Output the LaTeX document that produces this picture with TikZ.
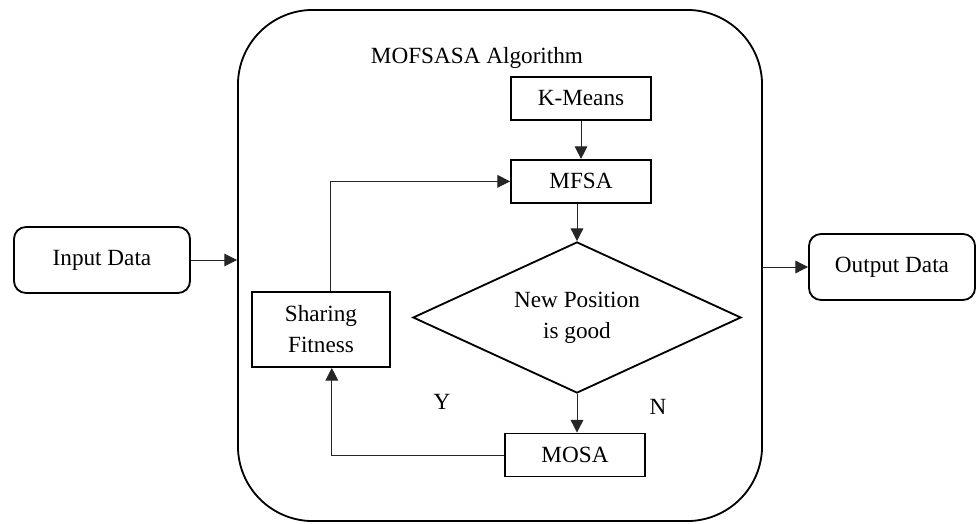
\documentclass[tikz,border=0pt]{standalone}
\usepackage{fontspec}
\setmainfont{Liberation Serif}
\usetikzlibrary{shapes.geometric, arrows.meta, positioning, calc}
\usepackage{xcolor}

\begin{document}
\begin{tikzpicture}[
        x=0.025cm, y=-0.025cm,
        node distance=0.95cm,
        font=\fontsize{16.5}{22}\selectfont,
        frame/.style={rectangle, draw, line width=1.3pt, rounded corners=1.875cm, minimum width=13.1cm, minimum height=12.775cm},
        io/.style={rectangle, draw, line width=1.3pt, rounded corners=0.3cm, minimum height=1.65cm, align=center},
        block/.style={rectangle, draw, line width=1.3pt, minimum width=3.5cm, minimum height=1.075cm, align=center},
        decision/.style={diamond, draw, line width=1.3pt, aspect=2.17, minimum width=8.2cm, minimum height=3.775cm, inner sep=0pt, align=center},
        arrow/.style={line width=0.7pt, black!85, -{Triangle[length=9pt, width=9pt]}},
        link/.style={line width=0.7pt, black!85}
    ]
        \useasboundingbox (0,0) rectangle (978,524);

        \node [frame] (algo) at (500,265.5) {};
        \node (title) at (477,58) {MOFSASA Algorithm};

        \node [io, minimum width=4.4cm] (input) at (102,260) {Input Data};
        \node [io, minimum width=4.15cm] (output) at (892,267) {Output Data};

        \node [block] (kmeans) at (581,98.5) {K-Means};
        \node [block, below=of kmeans] (mfsa) {MFSA};
        \node [decision] (check) at (577,317.5) {New Position\\is good};
        \node [block] (mosa) at (575,455) {MOSA};
        \node [block, minimum width=3.45cm, minimum height=1.875cm] (sharing) at (321,329.5) {Sharing\\Fitness};

        \node (yes) at (442,402) {Y};
        \node (no) at (658,407) {N};

        \draw [arrow] (input.east) -- (input.east -| algo.west);
        \draw [arrow] (output.west -| algo.east) -- (output.west);
        \draw [arrow] (kmeans) -- (mfsa);
        \draw [arrow] (mfsa.south -| check.north) -- (check.north);
        \draw [arrow] (check.south) -- (check.south |- mosa.north);
        \draw [arrow] (mosa.west) -| ([xshift=0.27cm]sharing.south);
        \draw [arrow] ([xshift=0.23cm]sharing.north) |- (mfsa.west);

    \end{tikzpicture}
\end{document}
